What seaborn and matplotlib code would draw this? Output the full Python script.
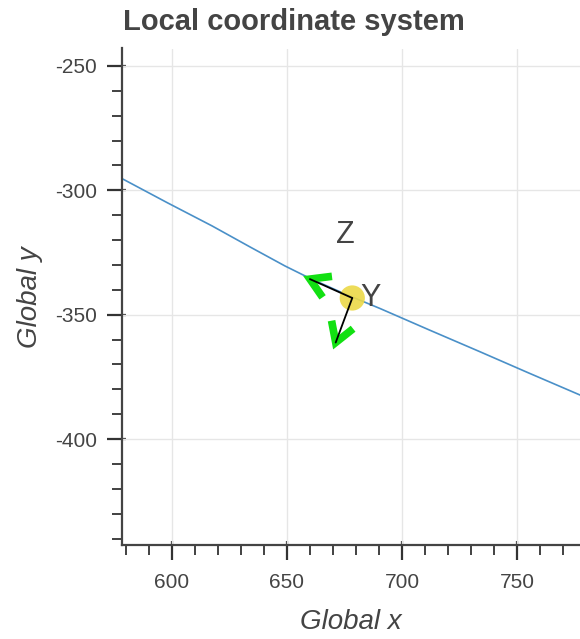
import numpy as np
import pandas as pd
import matplotlib
matplotlib.use("Agg")
import matplotlib.pyplot as plt
from matplotlib.ticker import MultipleLocator
import seaborn as sns

# ---- data ----
path_x = [560.0, 578.3, 598.0, 617.4, 634.0, 649.1, 660.0, 675.0, 690.4, 712.0, 733.9, 755.0, 777.4, 800.0]
path_y = [-286.5, -295.3, -305.0, -314.3, -322.8, -330.4, -335.4, -341.6, -347.5, -356.2, -364.9, -373.4, -382.3, -391.2]
origin_x = [678.4]
origin_y = [-343.3]
axis_end_x = [660.0, 671.2]
axis_end_y = [-335.7, -361.2]
label_text = ["Z", "Y"]
label_x = [675.2, 686.5]
label_y = [-318.0, -343.3]
title = "Local coordinate system"
xlabel = "Global x"
ylabel = "Global y"

sns.set_theme(style="white")
plt.rcParams['font.family'] = ['Liberation Sans', 'DejaVu Sans']
plt.rcParams['axes.unicode_minus'] = False

TXT = "#444444"
fig = plt.figure(figsize=(5.8, 6.39), dpi=100)
ax = fig.add_axes([122/580, 1-545/639, 1-122/580, (545-48.5)/639])

df = pd.DataFrame({"x": path_x, "y": path_y})
sns.lineplot(data=df, x="x", y="y", ax=ax, color="#4a90c8", lw=1.2, sort=False, zorder=2)

sns.scatterplot(x=origin_x, y=origin_y, ax=ax, s=330, color="#ecd948", edgecolor="none",
                alpha=0.9, zorder=3)

ax.set_xlim(578.3, 777.4)
ax.set_ylim(-442.6, -243.0)

fig.canvas.draw()
ox, oy = origin_x[0], origin_y[0]
inv = ax.transData.inverted()
for ex, ey in zip(axis_end_x, axis_end_y):
    ax.plot([ox, ex], [oy, ey], color="black", lw=1.3, zorder=5, solid_capstyle="round")
    # green open arrow head at the tip, built in pixel space
    p0 = ax.transData.transform((ox, oy))
    p1 = ax.transData.transform((ex, ey))
    d = (p1 - p0) / np.hypot(*(p1 - p0))
    n = np.array([-d[1], d[0]])
    L, W = 19.0, 11.5
    w1 = p1 - L * d + W * n
    w2 = p1 - L * d - W * n
    pts = inv.transform(np.array([w1, p1, w2]))
    ax.plot(pts[:, 0], pts[:, 1], color="#12e012", lw=5.5, zorder=4,
            solid_capstyle="butt", solid_joinstyle="miter")

for t, lx, ly in zip(label_text, label_x, label_y):
    ax.text(lx, ly, t, fontsize=22, color=TXT, ha="center", va="center", zorder=6)

ax.xaxis.set_major_locator(MultipleLocator(50))
ax.xaxis.set_minor_locator(MultipleLocator(10))
ax.yaxis.set_major_locator(MultipleLocator(50))
ax.yaxis.set_minor_locator(MultipleLocator(10))

ax.grid(True, which="major", color="#e6e6e6", lw=1.0)
ax.set_axisbelow(True)
for s in ["top", "right"]:
    ax.spines[s].set_visible(False)
for s in ["left", "bottom"]:
    ax.spines[s].set_color("#444444")
    ax.spines[s].set_linewidth(1.6)
    ax.spines[s].set_zorder(7)

ax.tick_params(which="both", bottom=True, left=True, top=False, right=False)
ax.tick_params(which="major", direction="out", length=10.5, width=1.6, color="#333333",
               labelsize=15, labelcolor=TXT)
ax.tick_params(which="minor", direction="out", length=7.5, width=1.3, color="#333333")
ax.tick_params(axis="x", which="major", pad=9.5)
ax.tick_params(axis="y", which="major", pad=7.5)

# small inward part of the major ticks
sec_y = ax.secondary_yaxis("left")
sec_x = ax.secondary_xaxis("bottom")
for sec, axis in [(sec_y, "y"), (sec_x, "x")]:
    sec.tick_params(which="major", direction="in", length=3, width=1.6, color="#333333",
                    left=(axis == "y"), bottom=(axis == "x"), labelleft=False, labelbottom=False)
    sec.tick_params(which="minor", length=0)
    for sp in sec.spines.values():
        sp.set_visible(False)
    if axis == "y":
        sec.yaxis.set_major_locator(MultipleLocator(50))
    else:
        sec.xaxis.set_major_locator(MultipleLocator(50))

ax.set_xlabel(xlabel, fontsize=20, style="italic", color=TXT)
ax.set_ylabel(ylabel, fontsize=20, style="italic", color=TXT)
ax.xaxis.set_label_coords(0.5, -0.155)
ax.xaxis.label.set_va("center")
ax.yaxis.set_label_coords(-0.2009, 0.5)
ax.yaxis.label.set_va("center")

fig.text(123/580, 1-30/639, title, fontsize=21, fontweight="bold", color=TXT,
         ha="left", va="baseline")

fig.savefig("out.png", dpi=100)
